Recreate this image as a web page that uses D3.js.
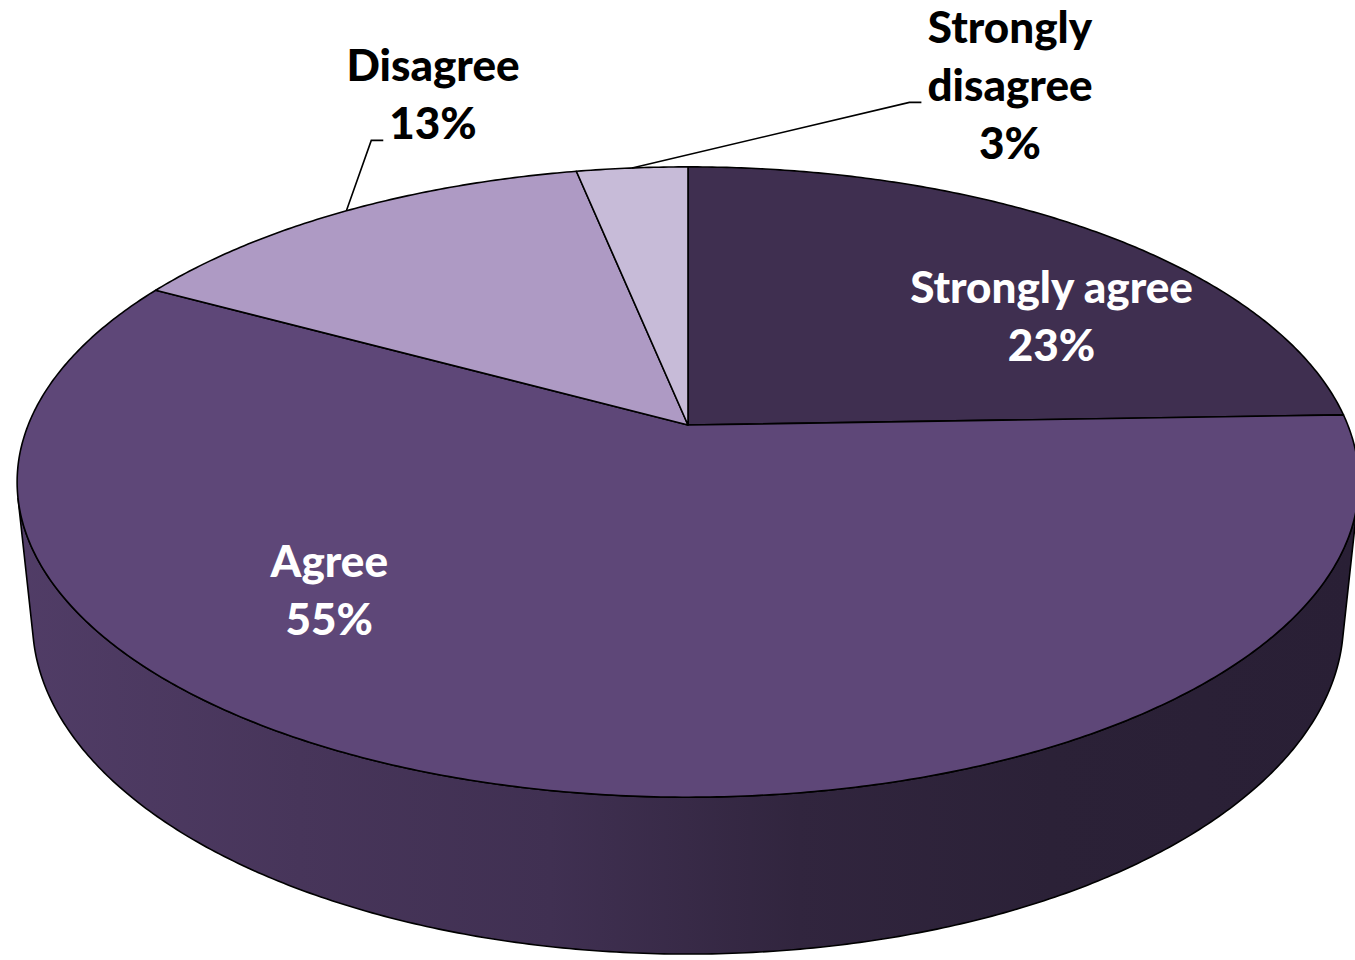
<!DOCTYPE html>
<html>
<head>
<meta charset="utf-8">
<script src="https://cdn.jsdelivr.net/npm/d3@7"></script>
<style>
  html, body { margin: 0; padding: 0; background: #ffffff; }
  svg { display: block; }
  text { font-family: "Lato", "Open Sans", sans-serif; font-weight: 900; }
</style>
</head>
<body>
<svg id="chart" width="1355" height="960"></svg>
<script>
// Survey responses, clockwise from 12 o'clock
const categories = ["Strongly agree", "Agree", "Disagree", "Strongly disagree"];
const percents = [23, 55, 13, 3];
const sliceColors = ["#3f2f50", "#5e4778", "#ae9ac4", "#c7bbd8"];
const labelLines = [["Strongly agree"], ["Agree"], ["Disagree"], ["Strongly", "disagree"]];
const labelOutside = [false, false, true, true];

const W = 1355, H = 960;

// Perspective camera looking down at a flat cylinder of unit radius
const view = {
  cx: 688, cy: 425,      // screen position of the pie's centre
  focal: 3233,           // focal length in px per unit
  dist: 4.9,             // camera distance in radii
  sinT: 0.462,           // sine of the viewing tilt
  thickness: 0.24        // wall height in radii
};
view.cosT = Math.sqrt(1 - view.sinT * view.sinT);

// theta: angle clockwise from 12 o'clock; rho: radius fraction; depth: drop below the top face
function project(theta, rho, depth) {
  const x = rho * Math.sin(theta);
  const y = -depth;
  const z = -rho * Math.cos(theta);
  const yv = y * view.cosT - z * view.sinT;
  const zv = y * view.sinT + z * view.cosT;
  const d = view.dist - zv;
  return [view.cx + view.focal * x / d, view.cy - view.focal * yv / d];
}

function rim(a0, a1, depth) {
  const n = Math.max(2, Math.ceil((a1 - a0) / (Math.PI / 360)));
  return d3.range(n + 1).map(i => project(a0 + (a1 - a0) * i / n, 1, depth));
}

const svg = d3.select("#chart");
const defs = svg.append("defs");
const line = d3.line();

const pie = d3.pie().sort(null).value(d => d.value).startAngle(0).endAngle(2 * Math.PI);
const arcs = pie(categories.map((c, i) => ({
  name: c, value: percents[i], color: sliceColors[i],
  lines: labelLines[i], outside: labelOutside[i]
})));

// Wall lighting: brighter on the left, falling off towards the right
const shade = d3.scaleLinear()
  .domain([0, 300, 550, 800, 1050, W])
  .range([0.86, 0.75, 0.68, 0.52, 0.46, 0.44])
  .clamp(true);

function scaled(color, f) {
  const c = d3.rgb(color);
  return d3.rgb(c.r * f, c.g * f, c.b * f).formatHex();
}

arcs.forEach((a, i) => {
  const g = defs.append("linearGradient")
    .attr("id", "wall-" + i)
    .attr("gradientUnits", "userSpaceOnUse")
    .attr("x1", 0).attr("y1", 0).attr("x2", W).attr("y2", 0);
  shade.domain().forEach(x => {
    g.append("stop")
      .attr("offset", x / W)
      .attr("stop-color", scaled(a.data.color, shade(x)));
  });
});

// Visible part of the outer wall (between the two silhouette lines)
const silhouette = Math.acos(-1 / (view.dist * view.cosT));
const visFrom = silhouette, visTo = 2 * Math.PI - silhouette;

const walls = svg.append("g").attr("class", "walls");
arcs.forEach((a, i) => {
  const s = Math.max(a.startAngle, visFrom);
  const e = Math.min(a.endAngle, visTo);
  if (s >= e) return;
  const pts = rim(s, e, 0).concat(rim(s, e, view.thickness).reverse());
  walls.append("path")
    .attr("d", line(pts) + "Z")
    .attr("fill", "url(#wall-" + i + ")")
    .attr("stroke", "#000")
    .attr("stroke-width", 1.6)
    .attr("stroke-linejoin", "round");
});

// Top faces
const apex = project(0, 0, 0);
svg.append("g").attr("class", "tops")
  .selectAll("path")
  .data(arcs)
  .join("path")
  .attr("d", a => line([apex].concat(rim(a.startAngle, a.endAngle, 0))) + "Z")
  .attr("fill", a => a.data.color)
  .attr("stroke", "#000")
  .attr("stroke-width", 1.6)
  .attr("stroke-linejoin", "round");

// Labels
const fontSize = 44, lineH = 58, capH = 31;
const topPoint = project(0, 1, 0);
const callout = { "Disagree": [-255, -72], "Strongly disagree": [322, -81] };

const labels = svg.append("g").attr("class", "labels");
arcs.forEach(a => {
  const d = a.data;
  const lines = d.lines.concat([d.value + "%"]);
  let cx, cy;
  if (!d.outside) {
    const p = project(a.startAngle + 0.65 * (a.endAngle - a.startAngle), 0.7, 0);
    cx = p[0]; cy = p[1];
  } else {
    cx = topPoint[0] + callout[d.name][0];
    cy = topPoint[1] + callout[d.name][1];
  }
  const base0 = cy - (lines.length - 1) * lineH / 2 + capH / 2;
  const nodes = lines.map((t, k) => labels.append("text")
    .attr("x", cx)
    .attr("y", base0 + k * lineH)
    .attr("text-anchor", "middle")
    .attr("font-size", fontSize)
    .attr("fill", d.outside ? "#000" : "#fff")
    .text(t));

  if (d.outside) {
    const mid = (a.startAngle + a.endAngle) / 2;
    const target = project(mid, 1, 0);
    const k = Math.floor(lines.length / 2);
    const w = nodes[k].node().getComputedTextLength();
    const dir = target[0] < cx ? -1 : 1;
    const edge = cx + dir * w / 2;
    const y = base0 + k * lineH + 1;
    svg.append("path")
      .attr("d", line([[edge + dir * 6, y], [edge + dir * 18, y], target]))
      .attr("fill", "none")
      .attr("stroke", "#000")
      .attr("stroke-width", 1.6);
  }
});
</script>
</body>
</html>
